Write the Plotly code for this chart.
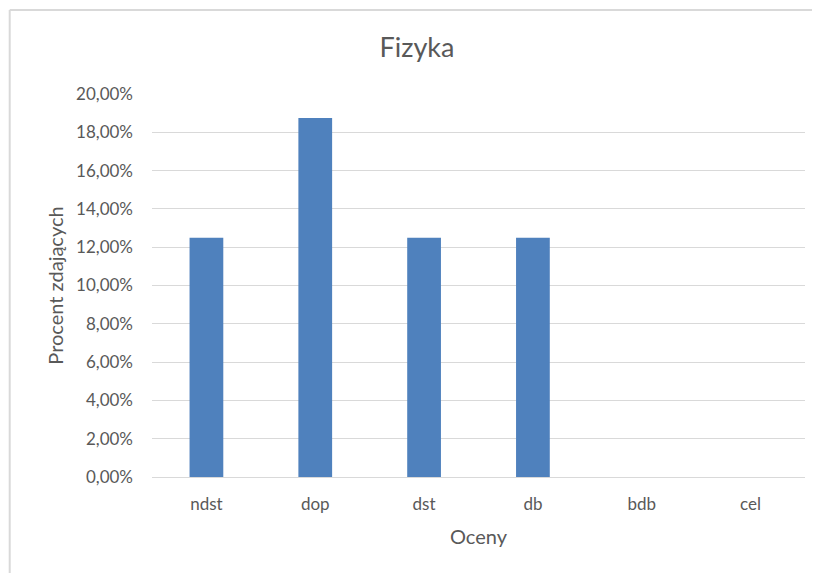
import plotly.graph_objects as go

categories = ["ndst", "dop", "dst", "db", "bdb", "cel"]
values = [0.125, 0.1875, 0.125, 0.125, 0.0, 0.0]
y_ticks = [0, 0.02, 0.04, 0.06, 0.08, 0.10, 0.12, 0.14, 0.16, 0.18, 0.20]

OFF = 8  # page body margin
W, H = 812, 565
# target plot area in page coords: x 151.5..805.5, y 94..477
L = 151.5 - OFF
T = 94 - OFF
R = W - (805.5 - OFF)
B = H - (477 - OFF)
pw, ph = W - L - R, H - T - B

def px(x):
    return (x - OFF - L) / pw

def py(y):
    return (H - B - (y - OFF)) / ph

font = "Lato, 'Open Sans', sans-serif"
gray = "#595959"

fig = go.Figure(go.Bar(
    x=categories, y=values,
    marker=dict(color="#4f81bd", line=dict(width=0)),
    width=0.31,
))

border = "#d9d9d9"
shapes = [
    dict(type="line", xref="paper", yref="paper", x0=px(9), x1=px(9), y0=py(580), y1=py(10),
         line=dict(color=border, width=2)),
    dict(type="line", xref="paper", yref="paper", x0=px(9), x1=px(825), y0=py(10), y1=py(10),
         line=dict(color=border, width=2)),
]

fig.update_layout(
    width=W, height=H,
    margin=dict(l=L, r=R, t=T, b=B),
    paper_bgcolor="white", plot_bgcolor="white",
    separators=",.",
    showlegend=False,
    font=dict(family=font, color=gray, size=17),
    title=dict(text="Fizyka", x=(417 - OFF) / W, xanchor="center", y=1 - (48 - OFF) / H,
               yanchor="middle", font=dict(size=27, color=gray, family=font)),
    shapes=shapes,
    xaxis=dict(
        showgrid=False, showline=True, linecolor=border, linewidth=1,
        ticks="", tickfont=dict(size=17, color=gray), ticklabelstandoff=12,
        title=dict(text="Oceny", font=dict(size=20, color=gray), standoff=16),
    ),
    yaxis=dict(
        range=[0, 0.2], tickvals=y_ticks, tickformat=".2%",
        showgrid=True, gridcolor=border, gridwidth=1, zeroline=False,
        showline=False, ticks="", tickfont=dict(size=17, color=gray), ticklabelstandoff=18,
        title=dict(text="Procent zdających", font=dict(size=20, color=gray), standoff=7),
    ),
)

fig.write_html("out.html")
